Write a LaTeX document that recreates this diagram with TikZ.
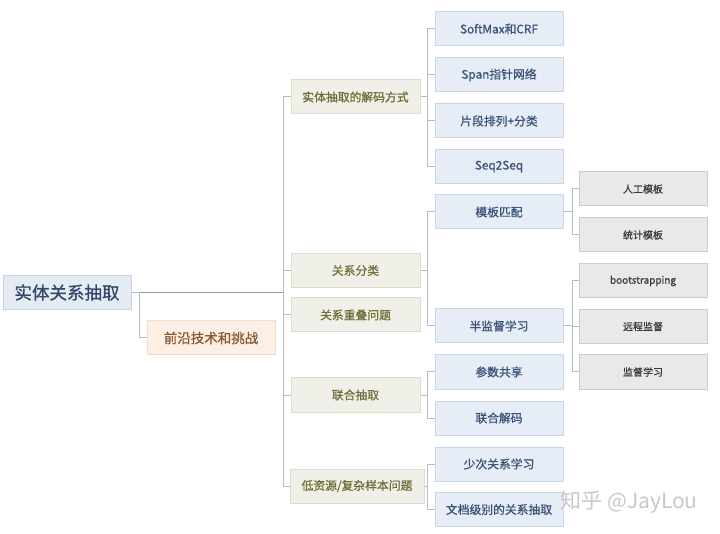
\documentclass[tikz,border=0pt]{standalone}
\usepackage{fontspec}
\newfontfamily\cjk{Noto Sans CJK SC}
\newfontfamily\cjkm[FakeBold=0.9]{Noto Sans CJK SC}
\definecolor{rootfill}{HTML}{E5EBF3}
\definecolor{rootdraw}{HTML}{C9D3E0}
\definecolor{roottext}{HTML}{34466B}
\definecolor{frfill}{HTML}{FCEFE5}
\definecolor{frdraw}{HTML}{F4DCCB}
\definecolor{frtext}{HTML}{8A5A33}
\definecolor{lafill}{HTML}{F0F0E8}
\definecolor{ladraw}{HTML}{DCDCCC}
\definecolor{latext}{HTML}{6E6E3A}
\definecolor{lbfill}{HTML}{E7EDF6}
\definecolor{lbdraw}{HTML}{CBD5E3}
\definecolor{lbtext}{HTML}{3D5278}
\definecolor{lcfill}{HTML}{E9E9E9}
\definecolor{lcdraw}{HTML}{CCCCCC}
\definecolor{lctext}{HTML}{3A3A3A}
\definecolor{rootline}{HTML}{8CA3A3}
\definecolor{edgeline}{HTML}{B4BEC0}
\definecolor{wmark}{HTML}{C8C8C8}
\begin{document}
\begin{tikzpicture}[x=1pt,y=-1pt,
  box/.style={rectangle,inner sep=0pt,minimum height=34pt,minimum width=128pt,line width=1pt,font=\cjkm},
  rootbox/.style={box,fill=rootfill,draw=rootdraw,text=roottext,font=\cjkm\fontsize{17.5}{20}\selectfont},
  frbox/.style={box,fill=frfill,draw=frdraw,text=frtext,font=\cjkm\fontsize{13.5}{16}\selectfont},
  labox/.style={box,fill=lafill,draw=ladraw,text=latext,minimum width=129pt,font=\cjkm\fontsize{11.8}{14}\selectfont},
  lbbox/.style={box,fill=lbfill,draw=lbdraw,text=lbtext,font=\cjkm\fontsize{11.8}{14}\selectfont},
  lcbox/.style={box,fill=lcfill,draw=lcdraw,text=lctext,font=\cjkm\fontsize{10}{12}\selectfont},
  rl/.style={draw=rootline,line width=1pt},
  el/.style={draw=edgeline,line width=1pt}]
\useasboundingbox (0,0) rectangle (720,534);
\fill[white] (0,0) rectangle (720,534);
% nodes
\node[rootbox] (root) at (67,292.5) {实体关系抽取};
\node[frbox] (fr) at (211,338) {前沿技术和挑战};
\node[labox] (d1) at (355.5,97) {实体抽取的解码方式};
\node[labox] (d2) at (355.5,270.5) {关系分类};
\node[labox] (d3) at (355.5,315) {关系重叠问题};
\node[labox] (d4) at (355.5,395) {联合抽取};
\node[labox,minimum width=134pt] (d5) at (357,486) {低资源/复杂样本问题};
\node[lbbox] (c1) at (499,29) {SoftMax和CRF};
\node[lbbox] (c2) at (499,75) {Span指针网络};
\node[lbbox] (c3) at (499,121) {片段排列+分类};
\node[lbbox] (c4) at (499,166.5) {Seq2Seq};
\node[lbbox] (c5) at (499,212) {模板匹配};
\node[lbbox] (c6) at (499,326) {半监督学习};
\node[lbbox] (c7) at (499,372) {参数共享};
\node[lbbox] (c8) at (499,418) {联合解码};
\node[lbbox] (c9) at (499,464) {少次关系学习};
\node[lbbox] (c10) at (499,509.5) {文档级别的关系抽取};
\node[lcbox] (e1) at (643,189) {人工模板};
\node[lcbox] (e2) at (643,235) {统计模板};
\node[lcbox] (e3) at (643,281) {bootstrapping};
\node[lcbox] (e4) at (643,326.5) {远程监督};
\node[lcbox] (e5) at (643,372) {监督学习};
\node[text=wmark,font=\cjk\fontsize{21}{24}\selectfont,anchor=west] (wm) at (557,502) {知乎 @JayLou};
% root connectors
\coordinate (t0) at (283,292.5);
\draw[rl] (root.east) -- (t0);
\draw[el] (t0) |- (d1.west);
\draw[el] (t0) |- (d2.west);
\draw[el] (t0) |- (d3.west);
\draw[el] (t0) |- (d4.west);
\draw[el] (t0) |- (d5.west);
\draw[el] (root.east) -- ++(8,0) |- (fr.west);
% level 1 -> level 2
\draw[el] (d1.east) -- ++(7,0) coordinate (b1);
\foreach \c in {c1,c2,c3,c4} \draw[el] (b1) |- (\c.west);
\draw[el] (d2.east) -- ++(7,0) coordinate (b2);
\foreach \c in {c5,c6} \draw[el] (b2) |- (\c.west);
\draw[el] (d4.east) -- ++(7,0) coordinate (b4);
\foreach \c in {c7,c8} \draw[el] (b4) |- (\c.west);
\draw[el] (d5.east) -- ++(3,0) coordinate (b5);
\foreach \c in {c9,c10} \draw[el] (b5) |- (\c.west);
% level 2 -> level 3
\draw[el] (c5.east) -- ++(9,0) coordinate (b6);
\foreach \c in {e1,e2} \draw[el] (b6) |- (\c.west);
\draw[el] (c6.east) -- ++(9,0) coordinate (b7);
\foreach \c in {e3,e4,e5} \draw[el] (b7) |- (\c.west);
\end{tikzpicture}
\end{document}
